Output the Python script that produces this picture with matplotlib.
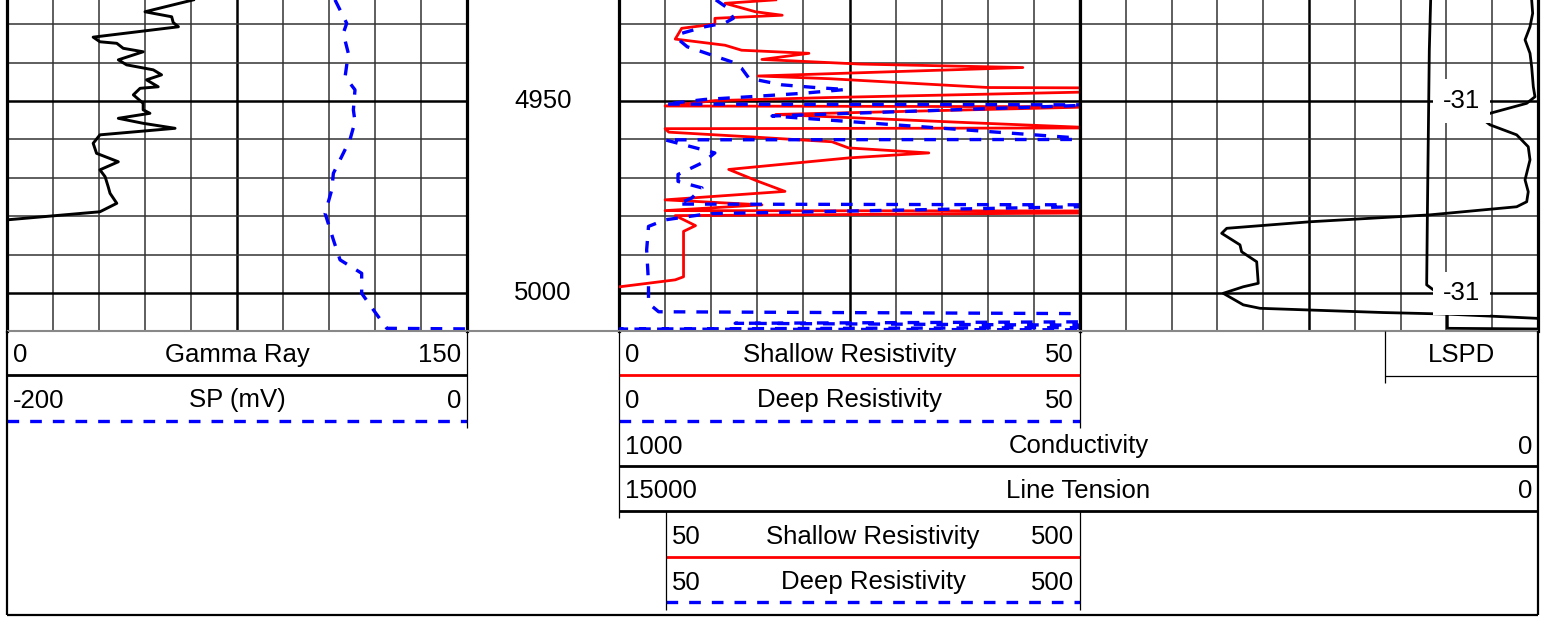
import numpy as np
import matplotlib
matplotlib.use("Agg")
import matplotlib.pyplot as plt
import matplotlib.transforms as mtransforms

plt.rcParams['font.family'] = ['Liberation Sans', 'DejaVu Sans']
plt.rcParams['font.size'] = 18.5

# ------------------------------------------------------------------ data
depth_top, depth_bottom = 4923.74, 5009.8
depth_labels = [4950, 5000]

gr_depth = [4923.7, 4926.8, 4928.1, 4929.6, 4930.7, 4933.4, 4934.6, 4935.0, 4936.3, 4937.2,
            4939.3, 4940.6, 4941.9, 4943.2, 4944.5, 4946.3, 4946.7, 4948.4, 4950.6, 4952.3,
            4953.2, 4954.5, 4955.8, 4957.1, 4958.8, 4961.0, 4963.6, 4965.8, 4967.9, 4969.7,
            4972.3, 4974.0, 4976.6, 4978.8, 4980.9, 4981.5, 5010.0]
gr_value = [60.8, 45.0, 53.7, 54.2, 55.9, 28.1, 30.3, 35.8, 37.9, 44.4,
            36.3, 39.0, 47.7, 50.4, 45.5, 49.3, 43.4, 41.2, 44.4, 44.4,
            46.6, 36.3, 44.4, 54.8, 30.3, 28.1, 29.2, 36.3, 30.3, 32.0,
            33.0, 33.6, 35.8, 30.3, 0.0, -3.0, -3.0]

sp_depth = [4923.7, 4929.8, 4932.4, 4937.6, 4943.7, 4947.1, 4952.3, 4955.4, 4960.1, 4968.8,
            4973.1, 4979.2, 4986.1, 4991.3, 4994.8, 5000.0, 5004.3, 5009.1, 5009.3]
sp_value = [-57.4, -52.3, -53.8, -51.6, -53.0, -48.7, -49.4, -48.7, -50.9, -58.1,
            -58.8, -61.7, -58.1, -55.2, -45.8, -45.8, -40.7, -34.9, 10.0]

shallow_depth = [4923.7, 4924.6, 4926.8, 4927.7, 4928.5, 4930.0, 4931.1, 4933.9, 4935.5, 4936.8,
                 4937.6, 4939.2, 4940.4, 4941.3, 4943.5, 4944.2, 4946.5, 4946.6, 4947.6, 4949.1,
                 4949.9, 4951.3, 4951.5, 4953.5, 4955.6, 4957.0, 4957.2, 4958.1, 4959.4, 4960.6,
                 4962.2, 4963.5, 4964.8, 4967.8, 4970.9, 4973.5, 4975.7, 4977.0, 4978.5, 4978.6,
                 4979.1, 4979.8, 4982.4, 4983.9, 4995.7, 4996.5, 4998.3, 4998.7, 5010.0]
shallow_res = [17.0, 11.5, 14.8, 17.7, 10.4, 10.4, 6.8, 6.1, 11.5, 13.3,
               20.6, 15.5, 26.2, 43.8, 15.1, 22.8, 40.1, 52.0, 52.0, 22.8,
               10.4, 5.0, 52.0, 17.0, 37.6, 52.0, 5.0, 5.4, 14.8, 23.1,
               24.9, 33.6, 24.9, 11.9, 15.1, 18.0, 5.0, 15.5, 5.0, 52.0,
               52.0, 6.1, 8.3, 7.0, 7.0, 6.1, 0.1, -2.0, -2.0]

deep_depth = [4923.7, 4925.7, 4928.5, 4929.7, 4930.7, 4932.4, 4933.7, 4935.9, 4938.1, 4939.8,
              4941.5, 4944.1, 4945.8, 4946.5, 4947.0, 4948.0, 4948.9, 4949.6, 4950.8, 4951.0,
              4953.9, 4960.0, 4960.1, 4963.5, 4966.1, 4969.1, 4970.9, 4972.6, 4975.2, 4976.8,
              4977.0, 4977.4, 4979.3, 4980.9, 4982.6, 4988.7, 4997.4, 5002.6, 5004.8, 5005.3,
              5007.4, 5007.8, 5008.3, 5008.9, 5009.3, 5009.5]
deep_res = [10.5, 11.7, 12.4, 11.5, 9.3, 6.8, 6.3, 7.4, 10.1, 12.2,
            13.3, 14.1, 17.7, 21.3, 24.6, 19.9, 14.1, 9.3, 5.0, 52.0,
            16.6, 52.0, 5.0, 10.4, 9.0, 6.4, 6.4, 9.0, 7.9, 6.4,
            52.0, 52.0, 9.7, 5.0, 3.2, 3.0, 3.2, 3.2, 4.3, 52.0,
            52.0, 12.6, 52.0, 52.0, 0.1, 52.0]

cond_depth = [4923.7, 4927.2, 4930.7, 4934.1, 4937.6, 4941.1, 4946.3, 4948.9, 4950.6, 4953.2,
              4954.5, 4956.2, 4958.8, 4961.9, 4965.3, 4970.5, 4973.6, 4976.2, 4977.5, 4979.6,
              4981.4, 4983.1, 4984.4, 4987.4, 4989.2, 4991.8, 4997.4, 4998.3, 5000.0, 5003.0,
              5003.9, 5005.0, 5005.4, 5006.5, 5007.0]
cond_value = [6.9, 5.8, 8.7, 14.1, 8.7, 6.9, 5.1, 3.3, 12.3, 52.2,
              61.3, 52.2, 23.2, 10.6, 8.7, 14.1, 10.6, 12.3, 23.2, 117.5,
              248.1, 338.7, 344.2, 324.3, 322.5, 306.1, 304.4, 320.7, 342.5, 320.7,
              302.5, 168.3, 99.3, 1.4, -5.0]

lt_depth = [4923.7, 4936.7, 4958.4, 4980.1, 4997.8, 4999.1, 5001.0, 5009.1, 5009.3]
lt_value = [1752, 1774, 1790, 1806, 1817, 1708, 1480, 1480, -200]

lspd_depth = [4950, 5000]
lspd_value = [-31, -31]

# curve header labels: (name, left scale, right scale)
gr_header = ("Gamma Ray", "0", "150")
sp_header = ("SP (mV)", "-200", "0")
shallow_header = ("Shallow Resistivity", "0", "50")
deep_header = ("Deep Resistivity", "0", "50")
cond_header = ("Conductivity", "1000", "0")
lt_header = ("Line Tension", "15000", "0")
shallow_bk_header = ("Shallow Resistivity", "50", "500")
deep_bk_header = ("Deep Resistivity", "50", "500")
lspd_header = "LSPD"

# ------------------------------------------------------------------ styles
W, H = 1544, 617
BLUE, RED = '#0000FF', '#FF0000'
BLUE_LW = 2.4
DASH = (0, (3.5, 3.3))
FS = 18.5
GRID_MINOR = dict(color='#333333', lw=1.1, zorder=1)
GRID_MAJOR = dict(color='black', lw=1.8, zorder=1)

fig = plt.figure(figsize=(W / 100, H / 100), dpi=100)
fig.patch.set_facecolor('white')

TRACK_Y0, TRACK_Y1 = 0, 331


def px_axes(x0, x1, y0=TRACK_Y0, y1=TRACK_Y1):
    return fig.add_axes([x0 / W, 1 - y1 / H, (x1 - x0) / W, (y1 - y0) / H])


def overlay(x0, x1, xlim):
    ax = px_axes(x0, x1)
    ax.set_xlim(*xlim)
    ax.set_ylim(depth_bottom, depth_top)
    ax.axis('off')
    return ax


def setup_track(ax, xlim):
    ax.set_xlim(*xlim)
    ax.set_ylim(depth_bottom, depth_top)
    ax.set_xticks([])
    ax.set_yticks([])
    for s in ['top', 'bottom']:
        ax.spines[s].set_visible(False)
    for s in ['left', 'right']:
        ax.spines[s].set_linewidth(2.3)
        ax.spines[s].set_color('black')
    xs = np.linspace(xlim[0], xlim[1], 11)
    for i, xv in enumerate(xs[1:-1], start=1):
        ax.axvline(xv, **(GRID_MAJOR if i == 5 else GRID_MINOR))
    for dv in np.arange(4930, 5001, 10):
        ax.axhline(dv, **(GRID_MAJOR if dv % 50 == 0 else GRID_MINOR))


# Track 1: GR + SP
ax1 = px_axes(7, 467)
setup_track(ax1, (0, 150))
ax1.plot(gr_value, gr_depth, color='black', lw=2.1, zorder=3)
ax_sp = overlay(7, 467, (-200, 0))
ax_sp.plot(sp_value, sp_depth, color=BLUE, lw=BLUE_LW, ls=DASH, zorder=3)

# Depth track
ax_d = overlay(467, 619, (0, 1))
tr_d = mtransforms.blended_transform_factory(ax_d.transAxes, ax_d.transData)
for d in depth_labels:
    ax_d.text(0.5, d, str(d), transform=tr_d, ha='center', va='center', fontsize=FS)

# Track 2: resistivity
ax2 = px_axes(619, 1080)
setup_track(ax2, (0, 50))
ax2.plot(shallow_res, shallow_depth, color=RED, lw=2.0, zorder=3)
ax2.plot(deep_res, deep_depth, color=BLUE, lw=BLUE_LW, ls=DASH, zorder=4)

# Track 3 grid
ax3 = px_axes(1080, 1538)
setup_track(ax3, (0, 10))

# Conductivity and line tension span tracks 2-3
ax_c = overlay(619, 1538, (1000, 0))
ax_c.plot(cond_value, cond_depth, color='black', lw=2.0, zorder=3)
ax_lt = overlay(619, 1538, (15000, 0))
ax_lt.plot(lt_value, lt_depth, color='black', lw=2.0, zorder=3)
tr_lt = mtransforms.blended_transform_factory(ax_lt.transAxes, ax_lt.transData)
for d, v in zip(lspd_depth, lspd_value):
    ax_lt.text(0.917, d, str(v), transform=tr_lt, ha='center', va='center', fontsize=FS,
               zorder=10, bbox=dict(facecolor='white', edgecolor='none', pad=7))

# ------------------------------------------------------------------ header
hdr = fig.add_axes([0, 0, 1, 1])
hdr.set_xlim(0, W)
hdr.set_ylim(H, 0)
hdr.axis('off')


def hline(x0, x1, y, **kw):
    hdr.plot([x0, x1], [y, y], clip_on=False, solid_capstyle='butt', **kw)


def vline(x, y0, y1, lw=0.9, color='black'):
    hdr.plot([x, x], [y0, y1], color=color, lw=lw, clip_on=False, solid_capstyle='butt')


def header_row(x0, x1, baseline, labels):
    name, left, right = labels
    hdr.text(x0 + 6, baseline, left, ha='left', va='baseline', fontsize=FS)
    hdr.text((x0 + x1) / 2, baseline, name, ha='center', va='baseline', fontsize=FS)
    hdr.text(x1 - 6, baseline, right, ha='right', va='baseline', fontsize=FS)


# top separator
hline(7, 1538, 331, color='#888888', lw=1.5)

# track 1 header
header_row(7, 467, 362, gr_header)
hline(7, 467, 375, color='black', lw=2.0)
header_row(7, 467, 407.5, sp_header)
hline(7, 467, 421, color=BLUE, lw=BLUE_LW, ls=DASH)
vline(467, 331, 428)

# track 2 header
header_row(619, 1080, 362, shallow_header)
hline(619, 1080, 375, color=RED, lw=2.0)
header_row(619, 1080, 407.5, deep_header)
hline(619, 1080, 421, color=BLUE, lw=BLUE_LW, ls=DASH)
vline(619, 331, 518)
vline(1080, 331, 428)

# conductivity / line tension (tracks 2-3)
header_row(619, 1538, 453.5, cond_header)
hline(619, 1538, 465.5, color='black', lw=2.0)
header_row(619, 1538, 498.5, lt_header)
hline(619, 1538, 511, color='black', lw=2.0)

# backup resistivity scales
header_row(666, 1080, 544, shallow_bk_header)
hline(666, 1080, 556.5, color=RED, lw=2.0)
header_row(666, 1080, 589.5, deep_bk_header)
hline(666, 1080, 602, color=BLUE, lw=BLUE_LW, ls=DASH)
vline(666, 511, 610)
vline(1080, 511, 610)

# LSPD box
hdr.text((1385 + 1538) / 2, 362, lspd_header, ha='center', va='baseline', fontsize=FS)
hline(1385, 1538, 376, color='black', lw=0.9)
vline(1385, 331, 383)

# outer frame of header
vline(7, 331, 615, lw=1.6)
vline(1538, 331, 615, lw=1.6)
hline(7, 1538, 615, color='black', lw=1.6)

fig.savefig('out.png', dpi=100, facecolor='white')
